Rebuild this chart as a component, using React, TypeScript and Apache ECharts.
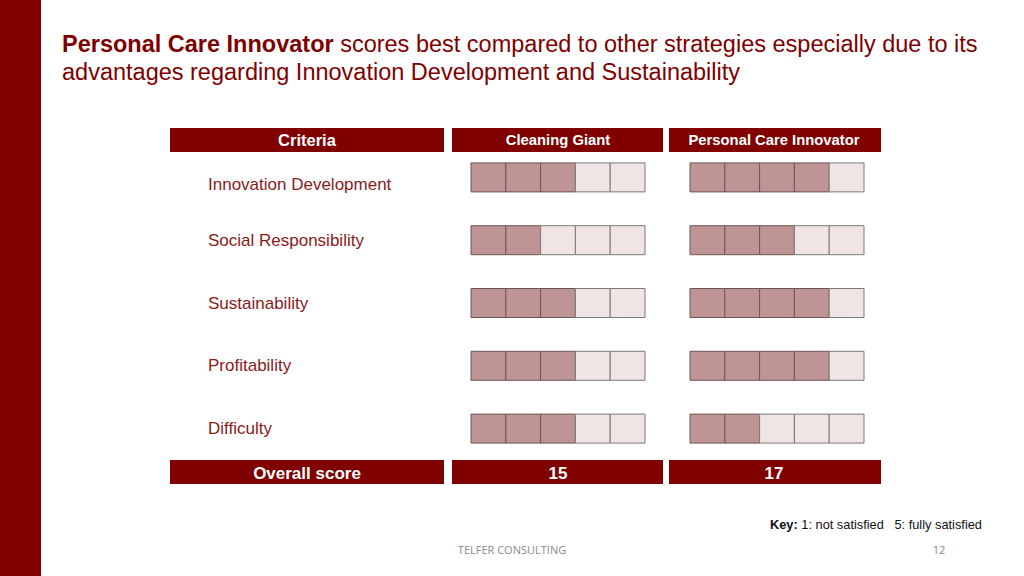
import React, { useEffect, useRef } from "react";
import * as echarts from "echarts";

const criteria = [
  "Innovation Development",
  "Social Responsibility",
  "Sustainability",
  "Profitability",
  "Difficulty",
];
const strategies = ["Cleaning Giant", "Personal Care Innovator"];
const cleaningGiantScores = [3, 2, 3, 3, 3];
const personalCareScores = [4, 3, 4, 4, 2];
const overallScores = ["15", "17"];
const maxScore = 5;

const RED = "#800000";
const FILLED = "#bf9494";
const EMPTY = "#f0e4e4";
const FONT = "Liberation Sans, Arial, sans-serif";

function cellData(scores: number[]) {
  const out: number[][] = [];
  scores.forEach((s, row) => {
    for (let i = 0; i < maxScore; i++) out.push([i, row, i < s ? 1 : 0]);
  });
  return out;
}

export default function App() {
  const ref = useRef<HTMLDivElement>(null);
  useEffect(() => {
    if (!ref.current) return;
    const chart = echarts.init(ref.current, undefined, { renderer: "svg" });
    const gridLefts = [471, 690];
    const renderItem = (params: any, api: any) => {
      const x = api.value(0);
      const row = api.value(1);
      const filled = api.value(2);
      const p0 = api.coord([x, row]);
      const p1 = api.coord([x + 1, row]);
      return {
        type: "rect",
        shape: { x: p0[0], y: p0[1] - 14.5, width: p1[0] - p0[0], height: 29 },
        style: {
          fill: filled ? FILLED : EMPTY,
          stroke: filled ? "#6a5656" : "#7a7a7a",
          lineWidth: 1,
        },
      };
    };
    const headerCenters = [307, 558, 774];
    const headerRects = [
      { x: 170, w: 274 },
      { x: 452, w: 211 },
      { x: 669, w: 212 },
    ];
    const graphics: any[] = [
      { type: "rect", shape: { x: 0, y: 0, width: 41, height: 576 }, style: { fill: RED } },
      {
        type: "text",
        x: 62,
        y: 58,
        style: {
          text: "{b|Personal Care Innovator}{n| scores best compared to other strategies especially due to its}\n{n|advantages regarding Innovation Development and Sustainability}",
          rich: {
            b: { fontFamily: FONT, fontSize: 23.5, fontWeight: "bold", fill: RED, lineHeight: 28 },
            n: { fontFamily: FONT, fontSize: 23.5, fill: RED, lineHeight: 28 },
          },
          verticalAlign: "middle",
        },
      },
    ];
    headerRects.forEach((r) => {
      graphics.push({ type: "rect", shape: { x: r.x, y: 128, width: r.w, height: 24 }, style: { fill: RED } });
      graphics.push({ type: "rect", shape: { x: r.x, y: 460, width: r.w, height: 24 }, style: { fill: RED } });
    });
    const headerTexts = ["Criteria", ...strategies];
    headerTexts.forEach((t, i) => {
      graphics.push({
        type: "text",
        x: headerCenters[i],
        y: 140,
        style: {
          text: t,
          fontFamily: FONT,
          fontWeight: "bold",
          fontSize: i === 0 ? 16.5 : 14.8,
          fill: "#ffffff",
          align: "center",
          verticalAlign: "middle",
        },
      });
    });
    ["Overall score", ...overallScores].forEach((t, i) => {
      graphics.push({
        type: "text",
        x: headerCenters[i],
        y: 473,
        style: {
          text: t,
          fontFamily: FONT,
          fontWeight: "bold",
          fontSize: 17,
          fill: "#ffffff",
          align: "center",
          verticalAlign: "middle",
        },
      });
    });
    graphics.push({
      type: "text",
      x: 770,
      y: 524,
      style: {
        text: "{k|Key:}{n| 1: not satisfied   5: fully satisfied}",
        rich: {
          k: { fontFamily: FONT, fontSize: 12.8, fontWeight: "bold", fill: "#111" },
          n: { fontFamily: FONT, fontSize: 12.8, fill: "#111" },
        },
        verticalAlign: "middle",
      },
    });
    graphics.push({
      type: "text",
      x: 512,
      y: 549,
      style: {
        text: "TELFER CONSULTING",
        fontFamily: "Open Sans, sans-serif",
        fontSize: 11,
        fill: "#8a8a8a",
        align: "center",
        verticalAlign: "middle",
      },
    });
    graphics.push({
      type: "text",
      x: 939,
      y: 549,
      style: {
        text: "12",
        fontFamily: "Open Sans, sans-serif",
        fontSize: 11,
        fill: "#8a8a8a",
        align: "center",
        verticalAlign: "middle",
      },
    });

    const allScores = [cleaningGiantScores, personalCareScores];
    chart.setOption({
      animation: false,
      backgroundColor: "#ffffff",
      grid: gridLefts.map((left) => ({ left, width: 174, top: 146, height: 314 })),
      xAxis: gridLefts.map((_, i) => ({
        type: "value",
        gridIndex: i,
        min: 0,
        max: maxScore,
        show: false,
      })),
      yAxis: gridLefts.map((_, i) => ({
        type: "category",
        gridIndex: i,
        data: criteria,
        inverse: true,
        axisLine: { show: false },
        axisTick: { show: false },
        splitLine: { show: false },
        axisLabel: {
          show: i === 0,
          align: "left",
          margin: 263,
          fontFamily: FONT,
          fontSize: 17,
          color: "#8b1a1a",
          formatter: (v: string, idx: number) => (idx === 0 ? `{f|${v}}` : `{r|${v}}`),
          rich: {
            f: { fontFamily: FONT, fontSize: 17, color: "#8b1a1a", padding: [15, 0, 0, 0] },
            r: { fontFamily: FONT, fontSize: 17, color: "#8b1a1a" },
          },
        },
      })),
      series: allScores.map((scores, i) => ({
        type: "custom",
        name: strategies[i],
        xAxisIndex: i,
        yAxisIndex: i,
        renderItem,
        data: cellData(scores),
        encode: { x: 0, y: 1 },
      })),
      graphic: graphics,
    });
    return () => chart.dispose();
  }, []);
  return (
    <div
      ref={ref}
      style={{ position: "fixed", left: 0, top: 0, width: 1024, height: 576 }}
    />
  );
}
